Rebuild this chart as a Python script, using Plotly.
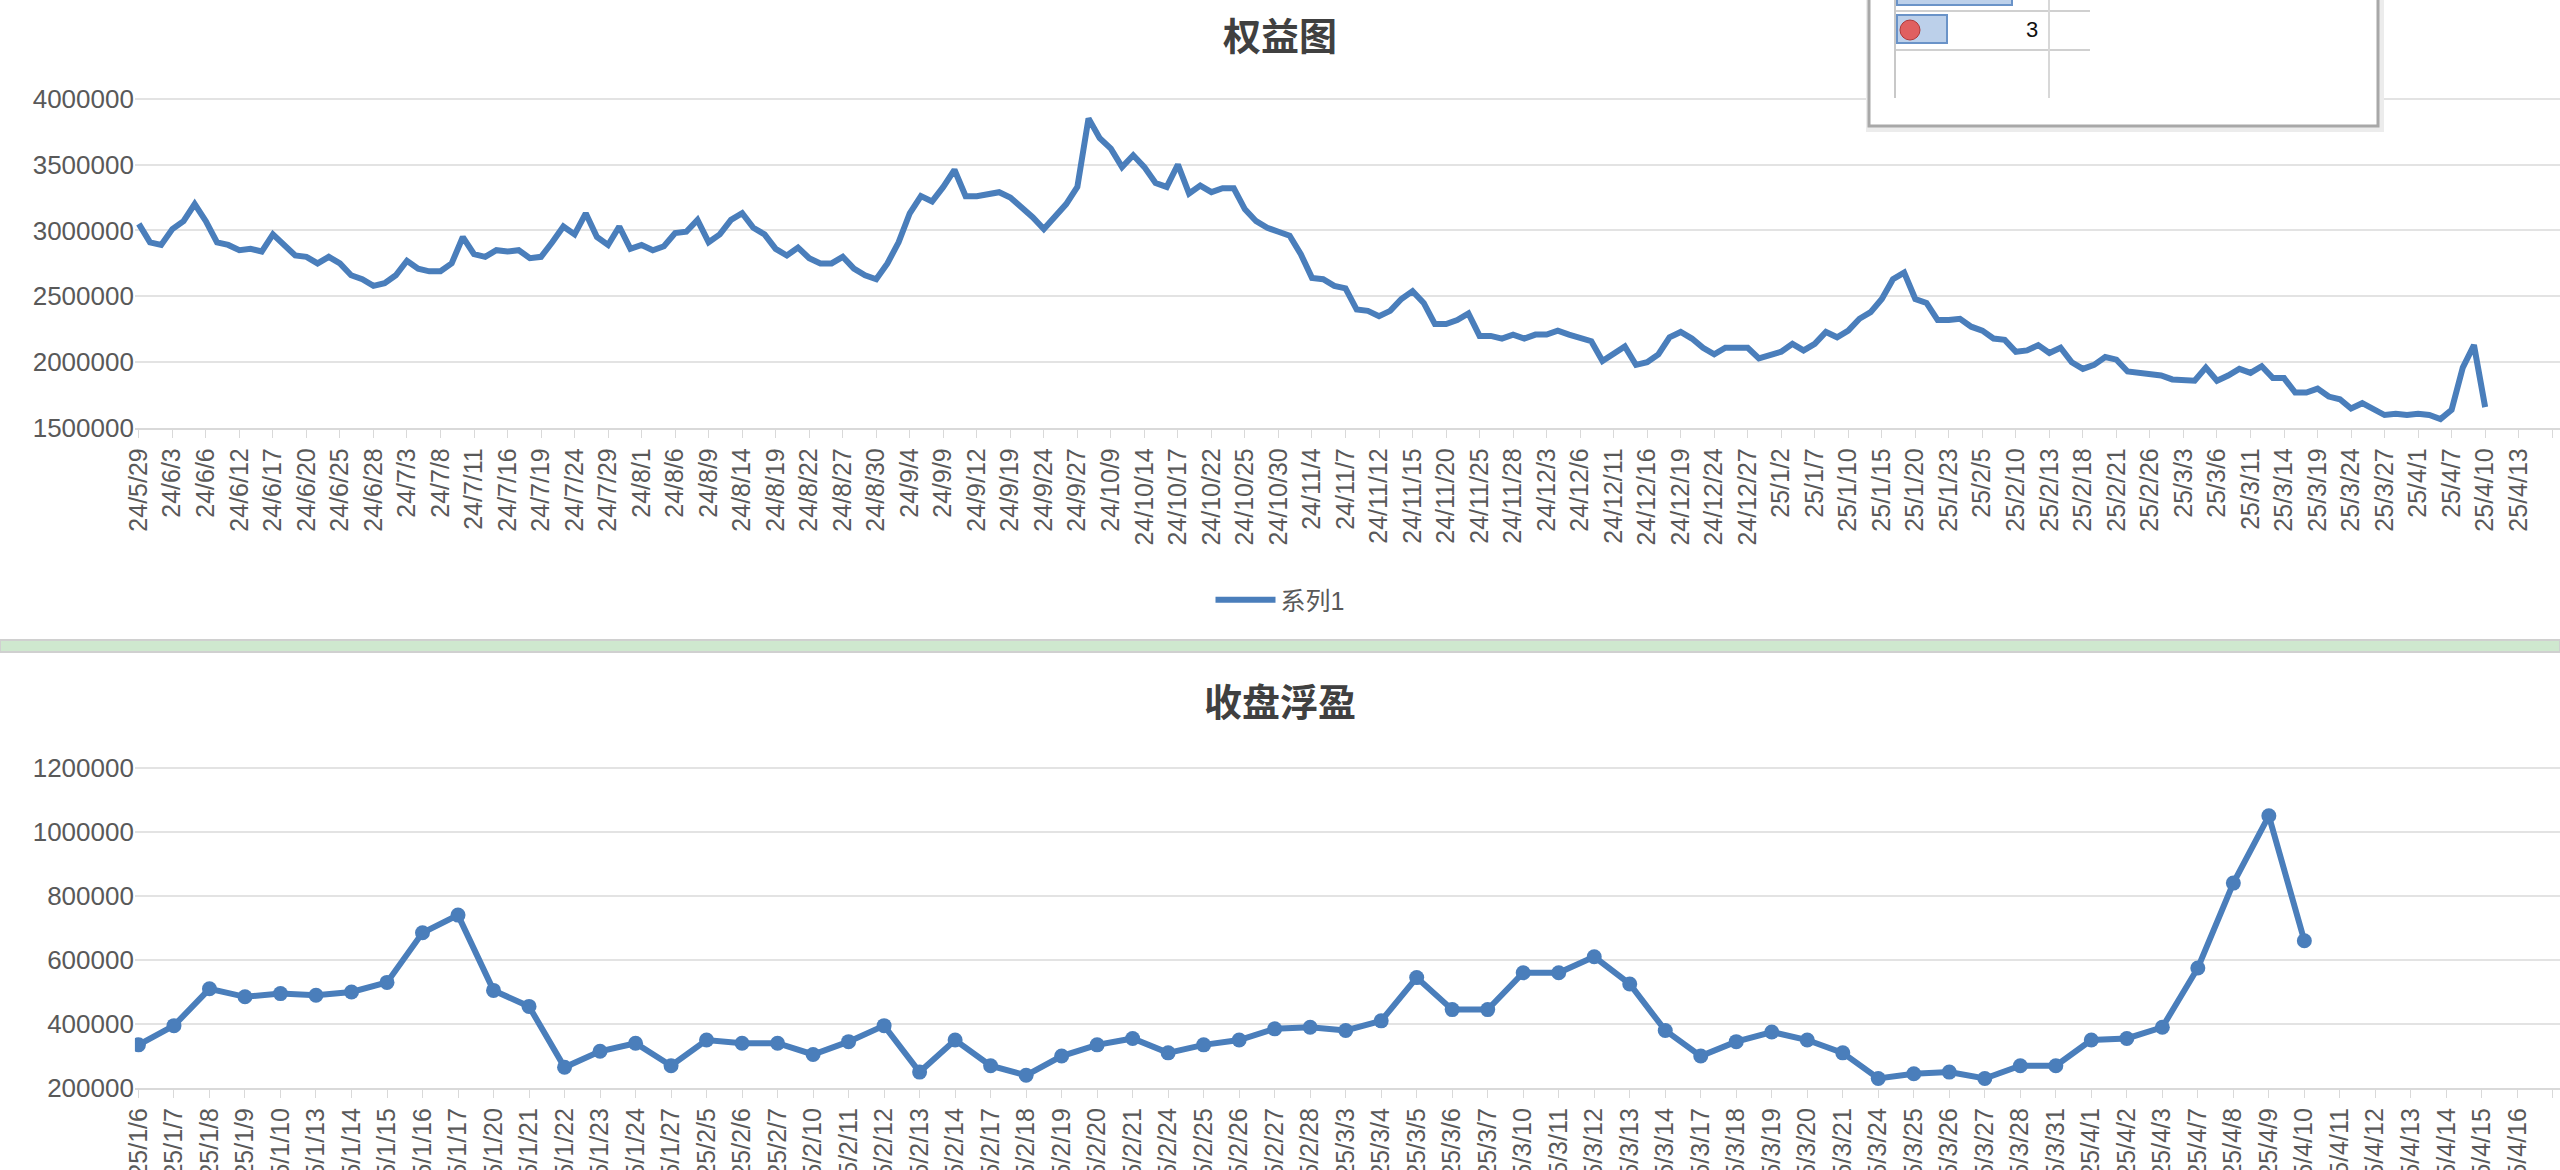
import pandas as pd
import plotly.graph_objects as go

# ---------- data ----------
holidays = ["2024-06-10", "2024-09-16", "2024-09-17", "2024-10-01", "2024-10-02", "2024-10-03",
            "2024-10-04", "2024-10-07", "2025-01-01", "2025-01-28", "2025-01-29", "2025-01-30",
            "2025-01-31", "2025-02-03", "2025-02-04", "2025-04-04"]

equity_values = [
 3050000,2910000,2890000,3010000,3070000,3200000,3070000,2910000,2890000,2850000,2860000,2840000,
 2970000,2890000,2810000,2800000,2750000,2800000,2750000,2660000,2630000,2580000,2600000,2660000,
 2770000,2710000,2690000,2690000,2750000,2950000,2820000,2800000,2850000,2840000,2850000,2790000,
 2800000,2910000,3030000,2970000,3130000,2950000,2890000,3030000,2860000,2890000,2850000,2880000,
 2980000,2990000,3080000,2910000,2970000,3080000,3130000,3020000,2970000,2860000,2810000,2870000,
 2790000,2750000,2750000,2800000,2710000,2660000,2630000,2750000,2910000,3130000,3260000,3220000,
 3330000,3460000,3260000,3260000,3270000,3290000,3250000,3180000,3100000,3010000,3100000,3200000,
 3330000,3850000,3700000,3620000,3480000,3570000,3480000,3360000,3330000,3500000,3280000,3340000,
 3290000,3320000,3320000,3160000,3070000,3020000,2990000,2960000,2820000,2640000,2630000,2580000,
 2560000,2400000,2390000,2350000,2390000,2480000,2540000,2450000,2290000,2290000,2320000,2370000,
 2200000,2200000,2180000,2210000,2180000,2210000,2210000,2240000,2210000,2190000,2160000,2010000,
 2060000,2120000,1980000,2000000,2060000,2190000,2230000,2180000,2110000,2060000,2110000,2110000,
 2110000,2030000,2060000,2080000,2140000,2090000,2140000,2230000,2190000,2240000,2330000,2380000,
 2480000,2630000,2680000,2480000,2450000,2320000,2320000,2330000,2270000,2240000,2180000,2170000,
 2080000,2090000,2130000,2070000,2110000,2000000,1950000,1980000,2040000,2020000,1930000,1920000,
 1920000,1900000,1870000,1860000,1860000,1960000,1860000,1900000,1950000,1920000,1970000,1880000,
 1880000,1770000,1770000,1800000,1740000,1720000,1650000,1690000,1650000,1600000,1610000,1600000,
 1610000,1600000,1570000,1640000,1960000,2130000,1660000]

float_values = [
 335000,395000,510000,485000,495000,490000,500000,530000,685000,740000,505000,455000,265000,
 315000,340000,270000,350000,340000,340000,305000,345000,395000,250000,350000,270000,240000,
 300000,335000,355000,310000,335000,350000,385000,390000,380000,410000,545000,445000,445000,
 560000,560000,610000,525000,380000,300000,345000,375000,350000,310000,230000,245000,250000,
 230000,270000,270000,350000,355000,390000,575000,840000,1050000,660000]

extra_days = ["2025-04-11", "2025-04-12", "2025-04-13", "2025-04-14", "2025-04-15", "2025-04-16", "2025-04-17"]

def lab(d):
    return f"{d.year % 100}/{d.month}/{d.day}"

trade = [d for d in pd.bdate_range("2024-05-29", "2025-04-10") if d.strftime("%Y-%m-%d") not in holidays]
top_dates = [lab(d) for d in trade[:len(equity_values)]]
top_cats = top_dates + [lab(pd.Timestamp(x)) for x in extra_days[:6]]
bot_trade = [d for d in trade if d >= pd.Timestamp("2025-01-06")]
bot_dates = [lab(d) for d in bot_trade[-len(float_values):]]
bot_cats = bot_dates + [lab(pd.Timestamp(x)) for x in extra_days]

BLUE = "#4a7ebb"
GRAY = "#595959"
FONT = "Liberation Sans, Noto Sans CJK SC"

fig = go.Figure()
fig.add_trace(go.Scatter(x=list(range(len(equity_values))), y=equity_values, mode="lines",
                         name="系列1", line=dict(color=BLUE, width=6), xaxis="x", yaxis="y"))
fig.add_trace(go.Scatter(x=list(range(len(float_values))), y=float_values, mode="lines+markers",
                         name="收盘浮盈", showlegend=False, line=dict(color=BLUE, width=6),
                         marker=dict(size=15, color=BLUE), xaxis="x2", yaxis="y2"))

tv_top = list(range(0, len(top_cats), 3))
ax_common = dict(showgrid=False, showline=True, linecolor="#d9d9d9", linewidth=2, automargin=False,
                 ticks="outside", ticklen=8, tickcolor="#d9d9d9", tickangle=-90,
                 tickfont=dict(family=FONT, size=25, color=GRAY), zeroline=False)
ay_common = dict(showgrid=True, gridcolor="#e3e3e3", gridwidth=2, showline=False, zeroline=False,
                 automargin=False, tickfont=dict(family=FONT, size=26, color=GRAY), ticks="", tickformat="d")

def px_x(v): return v / 2560
def px_y(v): return 1 - v / 1170

fig.update_layout(
    width=2560, height=1170, margin=dict(l=0, r=0, t=0, b=0, autoexpand=False),
    paper_bgcolor="white", plot_bgcolor="white",
    xaxis=dict(ax_common, domain=[0.0527, 1.0], anchor="y", range=[-0.35, 216.7],
               tickmode="array", tickvals=tv_top, ticktext=[top_cats[i] for i in tv_top]),
    yaxis=dict(ay_common, domain=[0.634, 0.918], anchor="x", range=[1500000, 4020000],
               tickvals=[1500000, 2000000, 2500000, 3000000, 3500000, 4000000]),
    xaxis2=dict(ax_common, domain=[0.0527, 1.0], anchor="y2", range=[-0.1, 68.2],
                tickmode="array", tickvals=list(range(len(bot_cats))), ticktext=bot_cats),
    yaxis2=dict(ay_common, domain=[0.070, 0.352], anchor="x2", range=[200000, 1230000],
                tickvals=[200000, 400000, 600000, 800000, 1000000, 1200000]),
    legend=dict(x=0.5, xanchor="center", y=px_y(600), yanchor="middle", orientation="h",
                font=dict(family=FONT, size=25, color=GRAY), itemwidth=60),
    showlegend=True,
    annotations=[
        dict(text="<b>权益图</b>", x=0.5, xref="paper", y=px_y(33), yref="paper", yanchor="middle",
             showarrow=False, font=dict(family="Noto Sans CJK SC", size=38, color="#404040")),
        dict(text="<b>收盘浮盈</b>", x=0.5, xref="paper", y=px_y(699), yref="paper", yanchor="middle",
             showarrow=False, font=dict(family="Noto Sans CJK SC", size=38, color="#404040")),
        dict(text="3", x=px_x(2040), xref="paper", y=px_y(29), yref="paper", yanchor="middle",
             showarrow=False, font=dict(family=FONT, size=22, color="#111")),
    ],
    shapes=[
        dict(type="rect", xref="paper", yref="paper", x0=0, x1=1, y0=px_y(652), y1=px_y(640),
             fillcolor="#cfe8cf", line=dict(color="#d0d0d0", width=2)),
        dict(type="rect", xref="paper", yref="paper", x0=px_x(1866), x1=px_x(2384), y0=px_y(132), y1=1.01,
             fillcolor="#ececec", line=dict(width=0)),
        dict(type="rect", xref="paper", yref="paper", x0=px_x(1869), x1=px_x(2378), y0=px_y(126), y1=1.01,
             fillcolor="white", line=dict(color="#a8a8a8", width=3)),
        dict(type="line", xref="paper", yref="paper", x0=px_x(1896), x1=px_x(2090), y0=px_y(11), y1=px_y(11),
             line=dict(color="#d0d0d0", width=2)),
        dict(type="line", xref="paper", yref="paper", x0=px_x(1896), x1=px_x(2090), y0=px_y(50), y1=px_y(50),
             line=dict(color="#d0d0d0", width=2)),
        dict(type="line", xref="paper", yref="paper", x0=px_x(1895), x1=px_x(1895), y0=px_y(98), y1=1,
             line=dict(color="#c8c8c8", width=2)),
        dict(type="line", xref="paper", yref="paper", x0=px_x(2049), x1=px_x(2049), y0=px_y(98), y1=1,
             line=dict(color="#d8d8d8", width=2)),
        dict(type="rect", xref="paper", yref="paper", x0=px_x(1897), x1=px_x(1947), y0=px_y(43), y1=px_y(15),
             fillcolor="#bcd0ea", line=dict(color="#6a93c8", width=2)),
        dict(type="rect", xref="paper", yref="paper", x0=px_x(1897), x1=px_x(2012), y0=px_y(5), y1=1.01,
             fillcolor="#bcd0ea", line=dict(color="#6a93c8", width=2)),
        dict(type="circle", xref="paper", yref="paper", x0=px_x(1900), x1=px_x(1920), y0=px_y(40), y1=px_y(20),
             fillcolor="#e06060", line=dict(color="#b03a3a", width=1)),
    ],
)
fig.write_html("out.html", config={"displayModeBar": False},
               post_script="document.body.style.margin='0';document.body.style.overflow='hidden';")
